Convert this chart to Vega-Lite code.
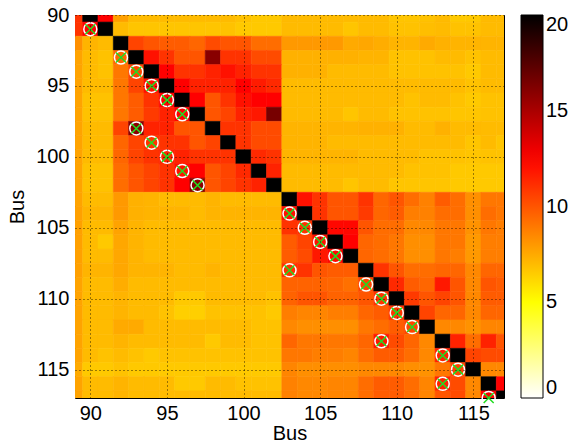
{
"$schema": "https://vega.github.io/schema/vega-lite/v6.json",
"width": 429, "height": 383,
"autosize": {"type": "none"},
"padding": {"left": 75, "top": 15, "right": 69, "bottom": 47},
"background": "white",
"config": {
 "view": {"stroke": "black", "strokeWidth": 1},
 "font": "Liberation Sans",
 "axis": {"labelFont": "Liberation Sans", "labelFontSize": 20, "labelColor": "black", "titleFont": "Liberation Sans", "titleFontSize": 20, "titleFontWeight": "normal", "titleColor": "black", "domain": false, "ticks": false, "grid": true, "gridColor": "#000000", "gridDash": [1, 3], "gridOpacity": 0.8, "gridWidth": 1}
},
"datasets": {
"cells": [
{"x":89,"y":90,"v":11},{"x":90,"y":90,"v":20},{"x":91,"y":90,"v":12.5},{"x":92,"y":90,"v":7.8},{"x":93,"y":90,"v":7},{"x":94,"y":90,"v":7},{"x":95,"y":90,"v":7},{"x":96,"y":90,"v":7},{"x":97,"y":90,"v":7},{"x":98,"y":90,"v":7},{"x":99,"y":90,"v":7},{"x":100,"y":90,"v":6.8},{"x":101,"y":90,"v":6.6},{"x":102,"y":90,"v":6.6},{"x":103,"y":90,"v":7},{"x":104,"y":90,"v":7},{"x":105,"y":90,"v":7},{"x":106,"y":90,"v":7},{"x":107,"y":90,"v":7},{"x":108,"y":90,"v":7},{"x":109,"y":90,"v":7},{"x":110,"y":90,"v":6.7},{"x":111,"y":90,"v":6.7},{"x":112,"y":90,"v":6.8},{"x":113,"y":90,"v":7},{"x":114,"y":90,"v":6.6},{"x":115,"y":90,"v":6.6},{"x":116,"y":90,"v":7},{"x":117,"y":90,"v":7},
{"x":89,"y":91,"v":11},{"x":90,"y":91,"v":12.5},{"x":91,"y":91,"v":20},{"x":92,"y":91,"v":7},{"x":93,"y":91,"v":6.7},{"x":94,"y":91,"v":6.7},{"x":95,"y":91,"v":6.7},{"x":96,"y":91,"v":6.7},{"x":97,"y":91,"v":6.7},{"x":98,"y":91,"v":6.7},{"x":99,"y":91,"v":6.8},{"x":100,"y":91,"v":6.6},{"x":101,"y":91,"v":6.6},{"x":102,"y":91,"v":6.6},{"x":103,"y":91,"v":7},{"x":104,"y":91,"v":7},{"x":105,"y":91,"v":7},{"x":106,"y":91,"v":7},{"x":107,"y":91,"v":6.7},{"x":108,"y":91,"v":7},{"x":109,"y":91,"v":7},{"x":110,"y":91,"v":6.8},{"x":111,"y":91,"v":6.8},{"x":112,"y":91,"v":6.9},{"x":113,"y":91,"v":7},{"x":114,"y":91,"v":6.8},{"x":115,"y":91,"v":6.8},{"x":116,"y":91,"v":7},{"x":117,"y":91,"v":7},
{"x":89,"y":92,"v":8.3},{"x":90,"y":92,"v":7.2},{"x":91,"y":92,"v":7},{"x":92,"y":92,"v":20},{"x":93,"y":92,"v":10.5},{"x":94,"y":92,"v":10},{"x":95,"y":92,"v":9.8},{"x":96,"y":92,"v":9.8},{"x":97,"y":92,"v":9.5},{"x":98,"y":92,"v":10.3},{"x":99,"y":92,"v":10},{"x":100,"y":92,"v":10},{"x":101,"y":92,"v":9.3},{"x":102,"y":92,"v":9.3},{"x":103,"y":92,"v":8},{"x":104,"y":92,"v":8},{"x":105,"y":92,"v":8},{"x":106,"y":92,"v":8},{"x":107,"y":92,"v":7.5},{"x":108,"y":92,"v":7.6},{"x":109,"y":92,"v":7.4},{"x":110,"y":92,"v":7.2},{"x":111,"y":92,"v":7.2},{"x":112,"y":92,"v":7.5},{"x":113,"y":92,"v":7.3},{"x":114,"y":92,"v":7.2},{"x":115,"y":92,"v":7.2},{"x":116,"y":92,"v":7.2},{"x":117,"y":92,"v":7.2},
{"x":89,"y":93,"v":7.7},{"x":90,"y":93,"v":7},{"x":91,"y":93,"v":6.8},{"x":92,"y":93,"v":9.5},{"x":93,"y":93,"v":20},{"x":94,"y":93,"v":12},{"x":95,"y":93,"v":11},{"x":96,"y":93,"v":10},{"x":97,"y":93,"v":10},{"x":98,"y":93,"v":16},{"x":99,"y":93,"v":11},{"x":100,"y":93,"v":11},{"x":101,"y":93,"v":10.3},{"x":102,"y":93,"v":10.3},{"x":103,"y":93,"v":7.3},{"x":104,"y":93,"v":7.3},{"x":105,"y":93,"v":7.3},{"x":106,"y":93,"v":7.3},{"x":107,"y":93,"v":7.3},{"x":108,"y":93,"v":7.2},{"x":109,"y":93,"v":7.2},{"x":110,"y":93,"v":6.8},{"x":111,"y":93,"v":6.8},{"x":112,"y":93,"v":6.8},{"x":113,"y":93,"v":7},{"x":114,"y":93,"v":7},{"x":115,"y":93,"v":6.8},{"x":116,"y":93,"v":7},{"x":117,"y":93,"v":7},
{"x":89,"y":94,"v":7.7},{"x":90,"y":94,"v":7},{"x":91,"y":94,"v":6.8},{"x":92,"y":94,"v":9},{"x":93,"y":94,"v":10.5},{"x":94,"y":94,"v":20},{"x":95,"y":94,"v":12.5},{"x":96,"y":94,"v":11},{"x":97,"y":94,"v":11},{"x":98,"y":94,"v":11.5},{"x":99,"y":94,"v":12},{"x":100,"y":94,"v":11.5},{"x":101,"y":94,"v":11},{"x":102,"y":94,"v":11},{"x":103,"y":94,"v":7.3},{"x":104,"y":94,"v":7.3},{"x":105,"y":94,"v":7.3},{"x":106,"y":94,"v":7},{"x":107,"y":94,"v":7},{"x":108,"y":94,"v":7},{"x":109,"y":94,"v":7},{"x":110,"y":94,"v":6.8},{"x":111,"y":94,"v":6.8},{"x":112,"y":94,"v":6.8},{"x":113,"y":94,"v":6.8},{"x":114,"y":94,"v":6.8},{"x":115,"y":94,"v":6.6},{"x":116,"y":94,"v":7},{"x":117,"y":94,"v":7},
{"x":89,"y":95,"v":7.7},{"x":90,"y":95,"v":7},{"x":91,"y":95,"v":7},{"x":92,"y":95,"v":9},{"x":93,"y":95,"v":10.5},{"x":94,"y":95,"v":12},{"x":95,"y":95,"v":20},{"x":96,"y":95,"v":12.5},{"x":97,"y":95,"v":11.5},{"x":98,"y":95,"v":11.5},{"x":99,"y":95,"v":11.5},{"x":100,"y":95,"v":12.5},{"x":101,"y":95,"v":11.7},{"x":102,"y":95,"v":11.3},{"x":103,"y":95,"v":7},{"x":104,"y":95,"v":7},{"x":105,"y":95,"v":7},{"x":106,"y":95,"v":7},{"x":107,"y":95,"v":7},{"x":108,"y":95,"v":7},{"x":109,"y":95,"v":7},{"x":110,"y":95,"v":7},{"x":111,"y":95,"v":7},{"x":112,"y":95,"v":7},{"x":113,"y":95,"v":7},{"x":114,"y":95,"v":7},{"x":115,"y":95,"v":6.8},{"x":116,"y":95,"v":7},{"x":117,"y":95,"v":7},
{"x":89,"y":96,"v":7.7},{"x":90,"y":96,"v":6.8},{"x":91,"y":96,"v":6.8},{"x":92,"y":96,"v":9},{"x":93,"y":96,"v":9.8},{"x":94,"y":96,"v":11},{"x":95,"y":96,"v":12.5},{"x":96,"y":96,"v":20},{"x":97,"y":96,"v":12.5},{"x":98,"y":96,"v":10},{"x":99,"y":96,"v":11},{"x":100,"y":96,"v":12},{"x":101,"y":96,"v":12.5},{"x":102,"y":96,"v":12.5},{"x":103,"y":96,"v":7},{"x":104,"y":96,"v":7},{"x":105,"y":96,"v":7},{"x":106,"y":96,"v":7},{"x":107,"y":96,"v":7},{"x":108,"y":96,"v":7},{"x":109,"y":96,"v":7},{"x":110,"y":96,"v":7},{"x":111,"y":96,"v":6.8},{"x":112,"y":96,"v":7},{"x":113,"y":96,"v":7},{"x":114,"y":96,"v":6.8},{"x":115,"y":96,"v":6.6},{"x":116,"y":96,"v":6.8},{"x":117,"y":96,"v":6.8},
{"x":89,"y":97,"v":7.7},{"x":90,"y":97,"v":6.8},{"x":91,"y":97,"v":6.8},{"x":92,"y":97,"v":9},{"x":93,"y":97,"v":9.8},{"x":94,"y":97,"v":10.8},{"x":95,"y":97,"v":11.5},{"x":96,"y":97,"v":12.5},{"x":97,"y":97,"v":20},{"x":98,"y":97,"v":10},{"x":99,"y":97,"v":10.5},{"x":100,"y":97,"v":11.5},{"x":101,"y":97,"v":11.8},{"x":102,"y":97,"v":16.5},{"x":103,"y":97,"v":7},{"x":104,"y":97,"v":7},{"x":105,"y":97,"v":7},{"x":106,"y":97,"v":7},{"x":107,"y":97,"v":6.7},{"x":108,"y":97,"v":7},{"x":109,"y":97,"v":7},{"x":110,"y":97,"v":6.8},{"x":111,"y":97,"v":6.8},{"x":112,"y":97,"v":6.8},{"x":113,"y":97,"v":6.8},{"x":114,"y":97,"v":6.7},{"x":115,"y":97,"v":6.7},{"x":116,"y":97,"v":6.8},{"x":117,"y":97,"v":6.8},
{"x":89,"y":98,"v":7.7},{"x":90,"y":98,"v":7},{"x":91,"y":98,"v":7},{"x":92,"y":98,"v":10.5},{"x":93,"y":98,"v":16},{"x":94,"y":98,"v":11.5},{"x":95,"y":98,"v":11.5},{"x":96,"y":98,"v":10},{"x":97,"y":98,"v":10},{"x":98,"y":98,"v":20},{"x":99,"y":98,"v":11},{"x":100,"y":98,"v":11},{"x":101,"y":98,"v":10.3},{"x":102,"y":98,"v":10.3},{"x":103,"y":98,"v":7.2},{"x":104,"y":98,"v":7.2},{"x":105,"y":98,"v":7.2},{"x":106,"y":98,"v":7.2},{"x":107,"y":98,"v":7.2},{"x":108,"y":98,"v":7.3},{"x":109,"y":98,"v":7.3},{"x":110,"y":98,"v":7.3},{"x":111,"y":98,"v":7},{"x":112,"y":98,"v":7},{"x":113,"y":98,"v":7.3},{"x":114,"y":98,"v":7},{"x":115,"y":98,"v":7},{"x":116,"y":98,"v":7},{"x":117,"y":98,"v":7},
{"x":89,"y":99,"v":7.7},{"x":90,"y":99,"v":7},{"x":91,"y":99,"v":7},{"x":92,"y":99,"v":9.5},{"x":93,"y":99,"v":10.5},{"x":94,"y":99,"v":11},{"x":95,"y":99,"v":11},{"x":96,"y":99,"v":11},{"x":97,"y":99,"v":10},{"x":98,"y":99,"v":10.5},{"x":99,"y":99,"v":20},{"x":100,"y":99,"v":11},{"x":101,"y":99,"v":10.3},{"x":102,"y":99,"v":10.3},{"x":103,"y":99,"v":7.2},{"x":104,"y":99,"v":7.2},{"x":105,"y":99,"v":7.2},{"x":106,"y":99,"v":7},{"x":107,"y":99,"v":7},{"x":108,"y":99,"v":7},{"x":109,"y":99,"v":7},{"x":110,"y":99,"v":7},{"x":111,"y":99,"v":7},{"x":112,"y":99,"v":7},{"x":113,"y":99,"v":7},{"x":114,"y":99,"v":7},{"x":115,"y":99,"v":6.7},{"x":116,"y":99,"v":7},{"x":117,"y":99,"v":6.7},
{"x":89,"y":100,"v":7.7},{"x":90,"y":100,"v":7},{"x":91,"y":100,"v":7},{"x":92,"y":100,"v":9.5},{"x":93,"y":100,"v":10.5},{"x":94,"y":100,"v":11},{"x":95,"y":100,"v":11.5},{"x":96,"y":100,"v":11.5},{"x":97,"y":100,"v":11},{"x":98,"y":100,"v":11},{"x":99,"y":100,"v":11},{"x":100,"y":100,"v":20},{"x":101,"y":100,"v":11.3},{"x":102,"y":100,"v":11},{"x":103,"y":100,"v":7.2},{"x":104,"y":100,"v":7.2},{"x":105,"y":100,"v":7.2},{"x":106,"y":100,"v":7.2},{"x":107,"y":100,"v":7.2},{"x":108,"y":100,"v":7},{"x":109,"y":100,"v":7},{"x":110,"y":100,"v":7},{"x":111,"y":100,"v":7},{"x":112,"y":100,"v":6.8},{"x":113,"y":100,"v":6.8},{"x":114,"y":100,"v":6.8},{"x":115,"y":100,"v":6.7},{"x":116,"y":100,"v":6.8},{"x":117,"y":100,"v":6.8},
{"x":89,"y":101,"v":7.7},{"x":90,"y":101,"v":6.8},{"x":91,"y":101,"v":6.8},{"x":92,"y":101,"v":9.3},{"x":93,"y":101,"v":10},{"x":94,"y":101,"v":10.5},{"x":95,"y":101,"v":11},{"x":96,"y":101,"v":12},{"x":97,"y":101,"v":12.5},{"x":98,"y":101,"v":10},{"x":99,"y":101,"v":10.5},{"x":100,"y":101,"v":11.3},{"x":101,"y":101,"v":20},{"x":102,"y":101,"v":11.5},{"x":103,"y":101,"v":7},{"x":104,"y":101,"v":7},{"x":105,"y":101,"v":7},{"x":106,"y":101,"v":7},{"x":107,"y":101,"v":7},{"x":108,"y":101,"v":7},{"x":109,"y":101,"v":7},{"x":110,"y":101,"v":7},{"x":111,"y":101,"v":6.8},{"x":112,"y":101,"v":6.8},{"x":113,"y":101,"v":6.8},{"x":114,"y":101,"v":6.6},{"x":115,"y":101,"v":6.6},{"x":116,"y":101,"v":6.6},{"x":117,"y":101,"v":6.6},
{"x":89,"y":102,"v":7.7},{"x":90,"y":102,"v":6.8},{"x":91,"y":102,"v":6.8},{"x":92,"y":102,"v":9.3},{"x":93,"y":102,"v":10},{"x":94,"y":102,"v":10.5},{"x":95,"y":102,"v":11},{"x":96,"y":102,"v":12.5},{"x":97,"y":102,"v":16},{"x":98,"y":102,"v":10},{"x":99,"y":102,"v":10.5},{"x":100,"y":102,"v":11},{"x":101,"y":102,"v":11.5},{"x":102,"y":102,"v":20},{"x":103,"y":102,"v":7},{"x":104,"y":102,"v":7},{"x":105,"y":102,"v":7},{"x":106,"y":102,"v":7},{"x":107,"y":102,"v":6.7},{"x":108,"y":102,"v":7},{"x":109,"y":102,"v":7},{"x":110,"y":102,"v":6.7},{"x":111,"y":102,"v":6.7},{"x":112,"y":102,"v":6.7},{"x":113,"y":102,"v":6.7},{"x":114,"y":102,"v":6.6},{"x":115,"y":102,"v":6.6},{"x":116,"y":102,"v":6.6},{"x":117,"y":102,"v":6.6},
{"x":89,"y":103,"v":7.7},{"x":90,"y":103,"v":7},{"x":91,"y":103,"v":7},{"x":92,"y":103,"v":8},{"x":93,"y":103,"v":7.3},{"x":94,"y":103,"v":7.2},{"x":95,"y":103,"v":7},{"x":96,"y":103,"v":7},{"x":97,"y":103,"v":7},{"x":98,"y":103,"v":7.2},{"x":99,"y":103,"v":7},{"x":100,"y":103,"v":7},{"x":101,"y":103,"v":7},{"x":102,"y":103,"v":7},{"x":103,"y":103,"v":20},{"x":104,"y":103,"v":12},{"x":105,"y":103,"v":11},{"x":106,"y":103,"v":10},{"x":107,"y":103,"v":10},{"x":108,"y":103,"v":11},{"x":109,"y":103,"v":9.5},{"x":110,"y":103,"v":10},{"x":111,"y":103,"v":9.3},{"x":112,"y":103,"v":8.7},{"x":113,"y":103,"v":9.8},{"x":114,"y":103,"v":9.3},{"x":115,"y":103,"v":8.3},{"x":116,"y":103,"v":9},{"x":117,"y":103,"v":9},
{"x":89,"y":104,"v":7.8},{"x":90,"y":104,"v":7.2},{"x":91,"y":104,"v":7.2},{"x":92,"y":104,"v":8},{"x":93,"y":104,"v":7.3},{"x":94,"y":104,"v":7.2},{"x":95,"y":104,"v":7.2},{"x":96,"y":104,"v":7.2},{"x":97,"y":104,"v":7},{"x":98,"y":104,"v":7.2},{"x":99,"y":104,"v":7.2},{"x":100,"y":104,"v":7.2},{"x":101,"y":104,"v":7.2},{"x":102,"y":104,"v":7.2},{"x":103,"y":104,"v":12},{"x":104,"y":104,"v":20},{"x":105,"y":104,"v":11},{"x":106,"y":104,"v":10},{"x":107,"y":104,"v":10},{"x":108,"y":104,"v":10.8},{"x":109,"y":104,"v":9.5},{"x":110,"y":104,"v":9.8},{"x":111,"y":104,"v":8.8},{"x":112,"y":104,"v":8.7},{"x":113,"y":104,"v":9.3},{"x":114,"y":104,"v":9.3},{"x":115,"y":104,"v":8.3},{"x":116,"y":104,"v":9.3},{"x":117,"y":104,"v":9},
{"x":89,"y":105,"v":7.8},{"x":90,"y":105,"v":7},{"x":91,"y":105,"v":7},{"x":92,"y":105,"v":7.7},{"x":93,"y":105,"v":7.2},{"x":94,"y":105,"v":7},{"x":95,"y":105,"v":7},{"x":96,"y":105,"v":7},{"x":97,"y":105,"v":7},{"x":98,"y":105,"v":7},{"x":99,"y":105,"v":7},{"x":100,"y":105,"v":7},{"x":101,"y":105,"v":7},{"x":102,"y":105,"v":7},{"x":103,"y":105,"v":11},{"x":104,"y":105,"v":11},{"x":105,"y":105,"v":20},{"x":106,"y":105,"v":12.3},{"x":107,"y":105,"v":12.3},{"x":108,"y":105,"v":10},{"x":109,"y":105,"v":9.3},{"x":110,"y":105,"v":9.3},{"x":111,"y":105,"v":8.5},{"x":112,"y":105,"v":8.5},{"x":113,"y":105,"v":9},{"x":114,"y":105,"v":9},{"x":115,"y":105,"v":8.2},{"x":116,"y":105,"v":9},{"x":117,"y":105,"v":8.8},
{"x":89,"y":106,"v":7.8},{"x":90,"y":106,"v":7},{"x":91,"y":106,"v":6.6},{"x":92,"y":106,"v":7.6},{"x":93,"y":106,"v":7.2},{"x":94,"y":106,"v":7},{"x":95,"y":106,"v":7},{"x":96,"y":106,"v":7},{"x":97,"y":106,"v":7},{"x":98,"y":106,"v":7},{"x":99,"y":106,"v":7},{"x":100,"y":106,"v":7},{"x":101,"y":106,"v":7},{"x":102,"y":106,"v":7},{"x":103,"y":106,"v":9.8},{"x":104,"y":106,"v":10.5},{"x":105,"y":106,"v":12},{"x":106,"y":106,"v":20},{"x":107,"y":106,"v":12.5},{"x":108,"y":106,"v":9.5},{"x":109,"y":106,"v":9.3},{"x":110,"y":106,"v":9},{"x":111,"y":106,"v":8.3},{"x":112,"y":106,"v":8.3},{"x":113,"y":106,"v":9},{"x":114,"y":106,"v":9},{"x":115,"y":106,"v":8},{"x":116,"y":106,"v":8.8},{"x":117,"y":106,"v":8.8},
{"x":89,"y":107,"v":7.8},{"x":90,"y":107,"v":7},{"x":91,"y":107,"v":7},{"x":92,"y":107,"v":7.6},{"x":93,"y":107,"v":7.2},{"x":94,"y":107,"v":7},{"x":95,"y":107,"v":7},{"x":96,"y":107,"v":7},{"x":97,"y":107,"v":7},{"x":98,"y":107,"v":7},{"x":99,"y":107,"v":7},{"x":100,"y":107,"v":7},{"x":101,"y":107,"v":7},{"x":102,"y":107,"v":7},{"x":103,"y":107,"v":9.8},{"x":104,"y":107,"v":10.3},{"x":105,"y":107,"v":11.8},{"x":106,"y":107,"v":12.3},{"x":107,"y":107,"v":20},{"x":108,"y":107,"v":9.5},{"x":109,"y":107,"v":9.3},{"x":110,"y":107,"v":9},{"x":111,"y":107,"v":8.3},{"x":112,"y":107,"v":8.3},{"x":113,"y":107,"v":9},{"x":114,"y":107,"v":8.8},{"x":115,"y":107,"v":8},{"x":116,"y":107,"v":8.8},{"x":117,"y":107,"v":8.8},
{"x":89,"y":108,"v":7.8},{"x":90,"y":108,"v":7.2},{"x":91,"y":108,"v":7.2},{"x":92,"y":108,"v":7.6},{"x":93,"y":108,"v":7.2},{"x":94,"y":108,"v":7.2},{"x":95,"y":108,"v":7.2},{"x":96,"y":108,"v":7},{"x":97,"y":108,"v":7},{"x":98,"y":108,"v":7.2},{"x":99,"y":108,"v":7},{"x":100,"y":108,"v":7},{"x":101,"y":108,"v":7},{"x":102,"y":108,"v":7},{"x":103,"y":108,"v":11},{"x":104,"y":108,"v":11},{"x":105,"y":108,"v":10},{"x":106,"y":108,"v":9.8},{"x":107,"y":108,"v":9.8},{"x":108,"y":108,"v":20},{"x":109,"y":108,"v":11},{"x":110,"y":108,"v":10},{"x":111,"y":108,"v":9.3},{"x":112,"y":108,"v":9.3},{"x":113,"y":108,"v":9.5},{"x":114,"y":108,"v":9.5},{"x":115,"y":108,"v":8.5},{"x":116,"y":108,"v":9.5},{"x":117,"y":108,"v":9.5},
{"x":89,"y":109,"v":7.7},{"x":90,"y":109,"v":7},{"x":91,"y":109,"v":7},{"x":92,"y":109,"v":7.4},{"x":93,"y":109,"v":7},{"x":94,"y":109,"v":7},{"x":95,"y":109,"v":7},{"x":96,"y":109,"v":7},{"x":97,"y":109,"v":7},{"x":98,"y":109,"v":7},{"x":99,"y":109,"v":7},{"x":100,"y":109,"v":7},{"x":101,"y":109,"v":7},{"x":102,"y":109,"v":7},{"x":103,"y":109,"v":9.6},{"x":104,"y":109,"v":9.6},{"x":105,"y":109,"v":9.6},{"x":106,"y":109,"v":9.5},{"x":107,"y":109,"v":9.2},{"x":108,"y":109,"v":10.5},{"x":109,"y":109,"v":20},{"x":110,"y":109,"v":11.3},{"x":111,"y":109,"v":9.8},{"x":112,"y":109,"v":9.5},{"x":113,"y":109,"v":11.8},{"x":114,"y":109,"v":10},{"x":115,"y":109,"v":8.5},{"x":116,"y":109,"v":10},{"x":117,"y":109,"v":9.8},
{"x":89,"y":110,"v":7.7},{"x":90,"y":110,"v":7},{"x":91,"y":110,"v":7},{"x":92,"y":110,"v":7.2},{"x":93,"y":110,"v":7},{"x":94,"y":110,"v":7},{"x":95,"y":110,"v":7},{"x":96,"y":110,"v":6.6},{"x":97,"y":110,"v":6.6},{"x":98,"y":110,"v":7},{"x":99,"y":110,"v":7},{"x":100,"y":110,"v":7},{"x":101,"y":110,"v":7},{"x":102,"y":110,"v":6.8},{"x":103,"y":110,"v":9.6},{"x":104,"y":110,"v":10},{"x":105,"y":110,"v":10},{"x":106,"y":110,"v":9.6},{"x":107,"y":110,"v":9.6},{"x":108,"y":110,"v":10},{"x":109,"y":110,"v":11},{"x":110,"y":110,"v":20},{"x":111,"y":110,"v":10.8},{"x":112,"y":110,"v":10},{"x":113,"y":110,"v":10.5},{"x":114,"y":110,"v":10},{"x":115,"y":110,"v":8.5},{"x":116,"y":110,"v":9.8},{"x":117,"y":110,"v":9.8},
{"x":89,"y":111,"v":7.7},{"x":90,"y":111,"v":7},{"x":91,"y":111,"v":7},{"x":92,"y":111,"v":7.2},{"x":93,"y":111,"v":7},{"x":94,"y":111,"v":7},{"x":95,"y":111,"v":6.8},{"x":96,"y":111,"v":6.4},{"x":97,"y":111,"v":6.4},{"x":98,"y":111,"v":6.8},{"x":99,"y":111,"v":6.8},{"x":100,"y":111,"v":6.8},{"x":101,"y":111,"v":6.8},{"x":102,"y":111,"v":6.6},{"x":103,"y":111,"v":8.8},{"x":104,"y":111,"v":8.6},{"x":105,"y":111,"v":8.6},{"x":106,"y":111,"v":8.8},{"x":107,"y":111,"v":8.8},{"x":108,"y":111,"v":9.5},{"x":109,"y":111,"v":9.8},{"x":110,"y":111,"v":11},{"x":111,"y":111,"v":20},{"x":112,"y":111,"v":10.5},{"x":113,"y":111,"v":9.5},{"x":114,"y":111,"v":9.5},{"x":115,"y":111,"v":8.5},{"x":116,"y":111,"v":9.5},{"x":117,"y":111,"v":9.5},
{"x":89,"y":112,"v":7.7},{"x":90,"y":112,"v":7},{"x":91,"y":112,"v":7},{"x":92,"y":112,"v":7.5},{"x":93,"y":112,"v":7.5},{"x":94,"y":112,"v":7},{"x":95,"y":112,"v":7},{"x":96,"y":112,"v":7},{"x":97,"y":112,"v":7},{"x":98,"y":112,"v":7},{"x":99,"y":112,"v":7},{"x":100,"y":112,"v":7},{"x":101,"y":112,"v":6.8},{"x":102,"y":112,"v":6.8},{"x":103,"y":112,"v":8.5},{"x":104,"y":112,"v":8.3},{"x":105,"y":112,"v":8.3},{"x":106,"y":112,"v":8.3},{"x":107,"y":112,"v":8.3},{"x":108,"y":112,"v":9},{"x":109,"y":112,"v":9.3},{"x":110,"y":112,"v":9.8},{"x":111,"y":112,"v":10.5},{"x":112,"y":112,"v":20},{"x":113,"y":112,"v":8.5},{"x":114,"y":112,"v":8.5},{"x":115,"y":112,"v":8.2},{"x":116,"y":112,"v":8.6},{"x":117,"y":112,"v":8.6},
{"x":89,"y":113,"v":7.7},{"x":90,"y":113,"v":7},{"x":91,"y":113,"v":7},{"x":92,"y":113,"v":7.2},{"x":93,"y":113,"v":7},{"x":94,"y":113,"v":7},{"x":95,"y":113,"v":7},{"x":96,"y":113,"v":7},{"x":97,"y":113,"v":7},{"x":98,"y":113,"v":6.6},{"x":99,"y":113,"v":7},{"x":100,"y":113,"v":7},{"x":101,"y":113,"v":6.8},{"x":102,"y":113,"v":6.8},{"x":103,"y":113,"v":9.5},{"x":104,"y":113,"v":9},{"x":105,"y":113,"v":9},{"x":106,"y":113,"v":9},{"x":107,"y":113,"v":9},{"x":108,"y":113,"v":9.5},{"x":109,"y":113,"v":11.8},{"x":110,"y":113,"v":10.3},{"x":111,"y":113,"v":9.5},{"x":112,"y":113,"v":8.5},{"x":113,"y":113,"v":20},{"x":114,"y":113,"v":11.5},{"x":115,"y":113,"v":9.3},{"x":116,"y":113,"v":11.5},{"x":117,"y":113,"v":10},
{"x":89,"y":114,"v":7.7},{"x":90,"y":114,"v":7},{"x":91,"y":114,"v":6.8},{"x":92,"y":114,"v":7},{"x":93,"y":114,"v":6.8},{"x":94,"y":114,"v":6.6},{"x":95,"y":114,"v":6.8},{"x":96,"y":114,"v":6.8},{"x":97,"y":114,"v":6.8},{"x":98,"y":114,"v":6.8},{"x":99,"y":114,"v":6.8},{"x":100,"y":114,"v":6.8},{"x":101,"y":114,"v":6.8},{"x":102,"y":114,"v":6.8},{"x":103,"y":114,"v":9},{"x":104,"y":114,"v":9},{"x":105,"y":114,"v":8.8},{"x":106,"y":114,"v":8.8},{"x":107,"y":114,"v":8.6},{"x":108,"y":114,"v":9.3},{"x":109,"y":114,"v":9.8},{"x":110,"y":114,"v":9.8},{"x":111,"y":114,"v":9.3},{"x":112,"y":114,"v":8.5},{"x":113,"y":114,"v":11.5},{"x":114,"y":114,"v":20},{"x":115,"y":114,"v":10.5},{"x":116,"y":114,"v":10.3},{"x":117,"y":114,"v":10.3},
{"x":89,"y":115,"v":7.5},{"x":90,"y":115,"v":6.6},{"x":91,"y":115,"v":6.6},{"x":92,"y":115,"v":6.8},{"x":93,"y":115,"v":6.6},{"x":94,"y":115,"v":6.6},{"x":95,"y":115,"v":6.6},{"x":96,"y":115,"v":6.6},{"x":97,"y":115,"v":6.6},{"x":98,"y":115,"v":6.6},{"x":99,"y":115,"v":6.6},{"x":100,"y":115,"v":6.6},{"x":101,"y":115,"v":6.6},{"x":102,"y":115,"v":6.6},{"x":103,"y":115,"v":8.6},{"x":104,"y":115,"v":8.3},{"x":105,"y":115,"v":8.3},{"x":106,"y":115,"v":8.3},{"x":107,"y":115,"v":8.3},{"x":108,"y":115,"v":8.5},{"x":109,"y":115,"v":8.5},{"x":110,"y":115,"v":8.5},{"x":111,"y":115,"v":8.3},{"x":112,"y":115,"v":8.2},{"x":113,"y":115,"v":9},{"x":114,"y":115,"v":10.5},{"x":115,"y":115,"v":20},{"x":116,"y":115,"v":8.5},{"x":117,"y":115,"v":8.5},
{"x":89,"y":116,"v":7.7},{"x":90,"y":116,"v":7},{"x":91,"y":116,"v":7},{"x":92,"y":116,"v":7.2},{"x":93,"y":116,"v":7},{"x":94,"y":116,"v":7},{"x":95,"y":116,"v":7},{"x":96,"y":116,"v":6.6},{"x":97,"y":116,"v":6.6},{"x":98,"y":116,"v":7},{"x":99,"y":116,"v":7},{"x":100,"y":116,"v":6.8},{"x":101,"y":116,"v":6.8},{"x":102,"y":116,"v":6.8},{"x":103,"y":116,"v":8.7},{"x":104,"y":116,"v":8.5},{"x":105,"y":116,"v":8.5},{"x":106,"y":116,"v":8.6},{"x":107,"y":116,"v":8.6},{"x":108,"y":116,"v":9.3},{"x":109,"y":116,"v":9.8},{"x":110,"y":116,"v":9.8},{"x":111,"y":116,"v":9.3},{"x":112,"y":116,"v":8.6},{"x":113,"y":116,"v":11.5},{"x":114,"y":116,"v":10.3},{"x":115,"y":116,"v":8.5},{"x":116,"y":116,"v":20},{"x":117,"y":116,"v":12.5},
{"x":89,"y":117,"v":7.7},{"x":90,"y":117,"v":7},{"x":91,"y":117,"v":7},{"x":92,"y":117,"v":7.2},{"x":93,"y":117,"v":7},{"x":94,"y":117,"v":7},{"x":95,"y":117,"v":7},{"x":96,"y":117,"v":7},{"x":97,"y":117,"v":7},{"x":98,"y":117,"v":7},{"x":99,"y":117,"v":7},{"x":100,"y":117,"v":7},{"x":101,"y":117,"v":7},{"x":102,"y":117,"v":7},{"x":103,"y":117,"v":8.7},{"x":104,"y":117,"v":8.5},{"x":105,"y":117,"v":8.5},{"x":106,"y":117,"v":8.6},{"x":107,"y":117,"v":8.6},{"x":108,"y":117,"v":9.3},{"x":109,"y":117,"v":9.8},{"x":110,"y":117,"v":9.8},{"x":111,"y":117,"v":9.3},{"x":112,"y":117,"v":8.6},{"x":113,"y":117,"v":10},{"x":114,"y":117,"v":10.3},{"x":115,"y":117,"v":8.5},{"x":116,"y":117,"v":12.5},{"x":117,"y":117,"v":20}
],
"marks": [
{"x":90,"y":91},{"x":92,"y":93},{"x":93,"y":94},{"x":94,"y":95},{"x":95,"y":96},{"x":96,"y":97},{"x":93,"y":98},{"x":94,"y":99},{"x":95,"y":100},{"x":96,"y":101},{"x":97,"y":102},
{"x":103,"y":104},{"x":104,"y":105},{"x":105,"y":106},{"x":106,"y":107},{"x":103,"y":108},{"x":108,"y":109},{"x":109,"y":110},{"x":110,"y":111},{"x":111,"y":112},{"x":109,"y":113},{"x":113,"y":114},{"x":114,"y":115},{"x":113,"y":116},{"x":116,"y":117}
]
},
"layer": [
 {
  "data": {"name": "cells"},
  "transform": [
   {"bin": {"step": 1, "anchor": 0.5, "nice": false, "extent": [88.5, 117.5]}, "field": "x", "as": ["x0", "x1"]},
   {"bin": {"step": 1, "anchor": 0.5, "nice": false, "extent": [89.5, 117.5]}, "field": "y", "as": ["y0", "y1"]}
  ],
  "mark": {"type": "rect", "clip": true, "stroke": {"expr": "scale('color', datum.v)"}, "strokeWidth": 0.6},
  "encoding": {
   "x": {"field": "x0", "type": "quantitative", "scale": {"domain": [89, 117], "nice": false, "zero": false}, "axis": {"values": [90, 95, 100, 105, 110, 115], "title": "Bus", "labelPadding": 5, "titlePadding": 0, "zindex": 2}},
   "x2": {"field": "x1"},
   "y": {"field": "y0", "type": "quantitative", "scale": {"domain": [90, 117], "nice": false, "zero": false, "reverse": true}, "axis": {"values": [90, 95, 100, 105, 110, 115], "title": "Bus", "labelPadding": 6, "titlePadding": 8, "zindex": 2}},
   "y2": {"field": "y1"},
   "color": {"field": "v", "type": "quantitative", "scale": {"type": "linear", "domain": [0, 5, 12.5, 20], "range": ["#ffffff", "#ffff00", "#ff0000", "#000000"], "interpolate": "rgb"},
     "legend": {"type": "gradient", "orient": "none", "legendX": 446, "legendY": 0, "direction": "vertical", "gradientLength": 383, "gradientThickness": 22, "title": null, "labelFont": "Liberation Sans", "labelFontSize": 20, "labelColor": "black", "labelOffset": 3, "gradientStrokeColor": "black", "gradientStrokeWidth": 1, "padding": 0, "tickCount": 4, "labelOverlap": false}}
  }
 },
 {
  "data": {"name": "marks"},
  "mark": {"type": "point", "shape": "circle", "size": 169, "filled": false, "stroke": "white", "strokeWidth": 1.5, "opacity": 1},
  "encoding": {
   "x": {"field": "x", "type": "quantitative"},
   "y": {"field": "y", "type": "quantitative"}
  }
 },
 {
  "data": {"name": "marks"},
  "mark": {"type": "point", "shape": "M-1,-1L1,1M-1,1L1,-1", "size": 100, "filled": false, "stroke": "#22dd22", "strokeWidth": 1.5, "opacity": 1},
  "encoding": {
   "x": {"field": "x", "type": "quantitative"},
   "y": {"field": "y", "type": "quantitative"}
  }
 }
]
}
